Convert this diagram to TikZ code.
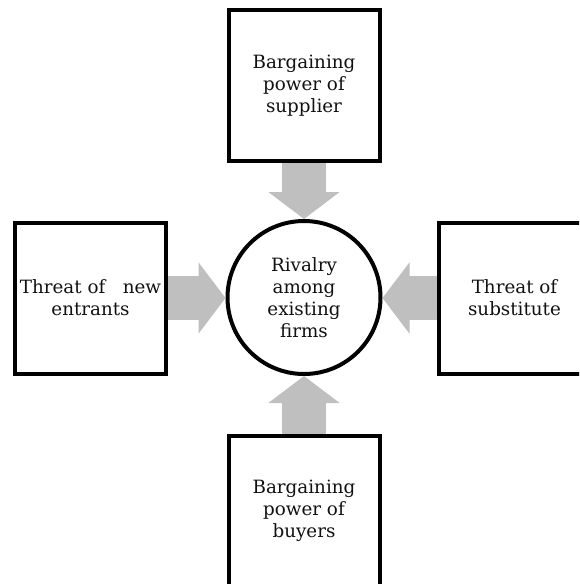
\documentclass[tikz,border=0pt]{standalone}
\usepackage{fontspec}
\setmainfont{DejaVu Serif}
\usetikzlibrary{arrows.meta}
\definecolor{Frame}{HTML}{000000}
\definecolor{Block}{HTML}{BFBFBF}
\definecolor{Ink}{HTML}{111111}

\begin{document}
\begin{tikzpicture}[x=1pt,y=-1pt,every node/.style={font=\fontsize{18.3}{22}\selectfont,text=Ink,align=center},force/.style={draw=Frame,line width=4pt,minimum width=151pt,minimum height=151pt,inner sep=1pt},rival/.style={circle,draw=Frame,line width=4pt,minimum size=153pt,inner sep=0pt},push/.style={draw=Block,line width=44pt,-{Triangle[width=70pt,length=27pt]}}]
\useasboundingbox (0,0) rectangle (579,584);
\clip (0,0) rectangle (579,584);
\node[rival] (rivalry) at (304,297.5) {Rivalry\\among\\existing\\firms};
\node[force] (supplier) at (304,85.5) {Bargaining\\power of\\supplier};
\node[force] (entrants) at (90.5,298) {Threat of \ \ new\\entrants};
\node[force] (substitute) at (514.5,298) {Threat of\\substitute};
\node[force] (buyers) at (304,511) {Bargaining\\power of\\buyers};
\draw[push] (supplier.south) -- (rivalry.north);
\draw[push] (buyers.north) -- (rivalry.south);
\draw[push] (entrants.east) -- (entrants.east -| rivalry.west);
\draw[push] (substitute.west) -- (substitute.west -| rivalry.east);
\end{tikzpicture}
\end{document}
